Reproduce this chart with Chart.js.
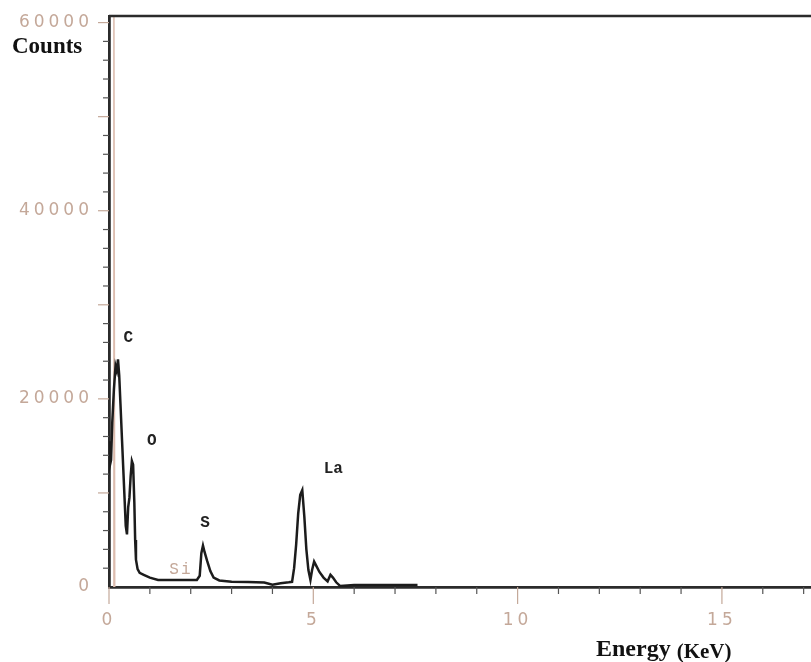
<!DOCTYPE html>
<html><head><meta charset="utf-8">
<script src="https://cdn.jsdelivr.net/npm/chart.js@4/dist/chart.umd.min.js"></script>
<style>html,body{margin:0;padding:0;background:#fff}#wrap{width:811px;height:662px}</style>
</head><body><div id="wrap"><canvas id="c" width="811" height="662"></canvas></div>
<script>
// Spectrum (black trace)
const energyKeV = [0.00,0.02,0.05,0.08,0.12,0.16,0.19,0.22,0.25,0.28,0.32,0.35,0.38,0.41,0.44,0.47,0.50,0.53,0.56,0.59,0.62,0.64,0.66,0.70,0.75,0.85,1.00,1.20,1.40,1.80,2.15,2.22,2.26,2.30,2.34,2.40,2.48,2.56,2.70,3.00,3.40,3.80,4.00,4.20,4.40,4.48,4.53,4.58,4.63,4.68,4.73,4.78,4.83,4.88,4.93,4.97,5.02,5.08,5.15,5.25,5.35,5.42,5.48,5.56,5.66,6.00,7.00,7.55];
const counts    = [15500,12900,13500,17500,21000,23500,23000,24200,22500,19500,15500,12500,9500,6500,5600,8500,9500,11800,13400,13000,9000,5000,2900,1900,1500,1300,1000,750,750,750,750,1200,3600,4400,3700,2800,1700,1000,700,560,540,470,250,400,500,550,2000,4500,7800,9800,10300,7500,4000,1800,750,1800,2700,2200,1600,1000,600,1300,1000,500,100,200,200,200];
// Light overlay trace (tall low-energy spike)
const spikeKeV    = [0.10,0.12,0.14];
const spikeCounts = [0,62000,0];
// Axis labels
const xTickLabels = [0,5,10,15];
const yTickLabels = [0,20000,40000,60000];
// Peak annotations
const peakNames  = ['C','O','S','La','Si'];
const peakKeV    = [0.47,1.05,2.35,5.49,1.76];
const peakCounts = [26500,15500,6800,12550,1800];

const TAN = '#c4a899';
const AXIS = '#2b2b2b';

const decor = {
  id:'decor',
  beforeDraw(chart){ chart.ctx.letterSpacing = '4px'; },
  afterDraw(chart){
    const ctx = chart.ctx, a = chart.chartArea, xs = chart.scales.x, ys = chart.scales.y;
    ctx.save();
    ctx.letterSpacing = '0px';
    // top frame
    ctx.strokeStyle = AXIS; ctx.lineWidth = 2.5;
    ctx.beginPath(); ctx.moveTo(a.left, a.top); ctx.lineTo(a.right, a.top); ctx.stroke();
    // y tick marks
    for (let v = 2000; v <= 60000; v += 2000) {
      const y = ys.getPixelForValue(v);
      const major = v % 10000 === 0;
      ctx.strokeStyle = major ? TAN : '#555'; ctx.lineWidth = 1.2;
      const len = major ? 11 : 6;
      ctx.beginPath(); ctx.moveTo(a.left - len, y); ctx.lineTo(a.left, y); ctx.stroke();
    }
    // x tick marks
    for (let v = 0; v <= 17; v += 1) {
      const x = xs.getPixelForValue(v);
      const major = v % 5 === 0;
      ctx.strokeStyle = major ? TAN : '#555'; ctx.lineWidth = 1.2;
      const len = major ? 17 : 7;
      ctx.beginPath(); ctx.moveTo(x, a.bottom); ctx.lineTo(x, a.bottom + len); ctx.stroke();
    }
    // axis titles
    ctx.fillStyle = '#111';
    ctx.textAlign = 'left'; ctx.textBaseline = 'alphabetic';
    ctx.font = 'bold 23px "Liberation Serif"';
    ctx.fillText('Counts', 12, 53);
    ctx.font = 'bold 24px "Liberation Serif"';
    ctx.fillText('Energy', 596, 656);
    const w = ctx.measureText('Energy ').width;
    ctx.font = 'bold 21px "Liberation Serif"';
    ctx.fillText('(KeV)', 596 + w, 658);
    // peak labels
    ctx.textAlign = 'center'; ctx.textBaseline = 'middle';
    for (let i = 0; i < peakNames.length; i++) {
      const x = xs.getPixelForValue(peakKeV[i]), y = ys.getPixelForValue(peakCounts[i]);
      if (peakNames[i] === 'Si') {
        ctx.fillStyle = TAN; ctx.font = '16px "Liberation Mono"'; ctx.letterSpacing = '2px';
      } else {
        ctx.fillStyle = '#222'; ctx.font = 'bold 16px "Liberation Mono"'; ctx.letterSpacing = '0px';
      }
      ctx.fillText(peakNames[i], x, y);
    }
    ctx.restore();
  }
};

new Chart(document.getElementById('c'), {
  type: 'line',
  data: {
    datasets: [
      { data: energyKeV.map((e,i)=>({x:e, y:counts[i]})), borderColor:'#1c1c1c', borderWidth:2.5, pointRadius:0, tension:0, fill:false, order:1 },
      { data: spikeKeV.map((e,i)=>({x:e, y:spikeCounts[i]})), borderColor:'#dcbcae', borderWidth:1.5, pointRadius:0, tension:0, fill:false, order:2 }
    ]
  },
  options: {
    responsive:false, animation:false, devicePixelRatio:1,
    layout:{ padding:{ top:16, right:0, left:0, bottom:0 } },
    plugins:{ legend:{display:false}, tooltip:{enabled:false} },
    scales:{
      x:{
        type:'linear', min:0, max:17.18,
        afterBuildTicks(s){ s.ticks = xTickLabels.map(v=>({value:v})); },
        afterFit(s){ s.height = 75; s.paddingLeft = 0; s.paddingRight = 0; },
        grid:{ display:false, drawTicks:false },
        border:{ display:true, color:AXIS, width:2.8 },
        ticks:{ autoSkip:false, maxRotation:0, padding:23, color:TAN,
          font:{ family:'DejaVu Sans', size:17 },
          callback:(v)=> String(v) }
      },
      y:{
        type:'linear', min:0, max:60700,
        afterBuildTicks(s){ s.ticks = yTickLabels.map(v=>({value:v})); },
        afterFit(s){ s.width = 109; s.paddingTop = 0; s.paddingBottom = 0; },
        grid:{ display:false, drawTicks:false },
        border:{ display:true, color:AXIS, width:2.8 },
        ticks:{ autoSkip:false, padding:16, color:TAN,
          font:{ family:'DejaVu Sans', size:17 },
          callback:(v)=> String(v) }
      }
    }
  },
  plugins:[decor]
});
</script></body></html>
